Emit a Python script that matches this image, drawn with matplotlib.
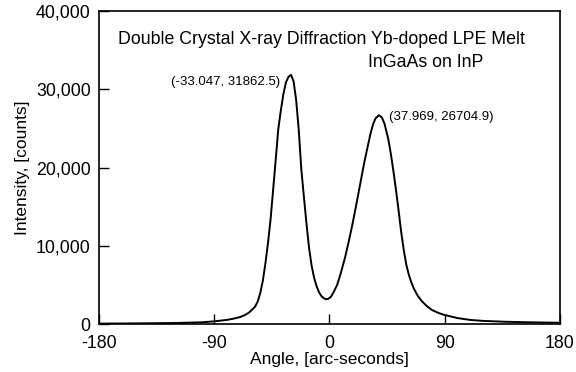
import matplotlib
matplotlib.use("Agg")
import matplotlib.pyplot as plt
import matplotlib.ticker as ticker

plt.rcParams['font.family'] = ['Liberation Sans', 'DejaVu Sans']
plt.rcParams['axes.unicode_minus'] = False

# rocking curve (angle in arc-seconds, intensity in counts)
angle = [-180, -150, -120, -100, -90, -80, -75, -70, -66, -63, -60, -58, -56,
         -54, -52, -50, -48, -46, -44, -42, -40, -38, -36, -34, -32, -30, -28,
         -26, -24, -22, -20, -18, -16, -14, -12, -10, -8, -6, -4, -2.5, -1, 1,
         3, 6, 9, 12, 15, 18, 21, 24, 27, 30, 32, 34, 36, 38.7, 41, 43, 46, 48,
         50, 52, 54, 56, 58, 60, 62, 64, 66, 69, 72, 76, 80, 85, 90, 100, 110,
         120, 137, 155, 180]
intensity = [50, 80, 130, 220, 340, 530, 680, 880, 1150, 1450, 1900, 2250,
             2900, 4000, 5600, 7800, 10400, 13400, 17200, 21000, 24900, 27300,
             29400, 30900, 31600, 31860, 31000, 28600, 24800, 19800, 16300,
             12900, 9800, 7500, 5900, 4800, 4000, 3500, 3250, 3170, 3220, 3450,
             4000, 5000, 6600, 8400, 10500, 12800, 15300, 17900, 20500, 22800,
             24300, 25500, 26300, 26700, 26400, 25600, 23600, 21700, 19500,
             17100, 14500, 11800, 9500, 7600, 6300, 5300, 4500, 3600, 2950,
             2300, 1800, 1420, 1150, 760, 520, 400, 290, 220, 160]

peak_labels = ['(-33.047, 31862.5)', '(37.969, 26704.9)']
x_ticks = [-180, -90, 0, 90, 180]
y_ticks = [0, 10000, 20000, 30000, 40000]

fig = plt.figure(figsize=(5.76, 3.72), dpi=100)
ax = fig.add_axes([0.172, 0.129, 0.8, 0.841])

ax.plot(angle, intensity, color='black', linewidth=1.4)

ax.set_xlim(-180, 180)
ax.set_ylim(0, 40000)
ax.set_xticks(x_ticks)
ax.set_yticks(y_ticks)
ax.yaxis.set_major_formatter(ticker.StrMethodFormatter('{x:,.0f}'))
ax.tick_params(direction='in', length=7, width=1, labelsize=12.8,
               top=False, right=False)
ax.tick_params(axis='y', pad=6)
ax.tick_params(axis='x', pad=8)
for s in ax.spines.values():
    s.set_linewidth(1.2)

ax.set_xlabel('Angle, [arc-seconds]', fontsize=12.5, labelpad=0)
ax.set_ylabel('Intensity, [counts]', fontsize=12.5, labelpad=4)

ax.text(0.041, 0.91, 'Double Crystal X-ray Diffraction Yb-doped LPE Melt',
        transform=ax.transAxes, fontsize=12.8, va='center', ha='left')
ax.text(0.833, 0.835, 'InGaAs on InP', transform=ax.transAxes,
        fontsize=12.8, va='center', ha='right')

ax.text(0.392, 0.773, peak_labels[0], transform=ax.transAxes,
        fontsize=9.5, va='center', ha='right')
ax.text(0.629, 0.661, peak_labels[1], transform=ax.transAxes,
        fontsize=9.5, va='center', ha='left')

fig.savefig('out.png', dpi=100)
